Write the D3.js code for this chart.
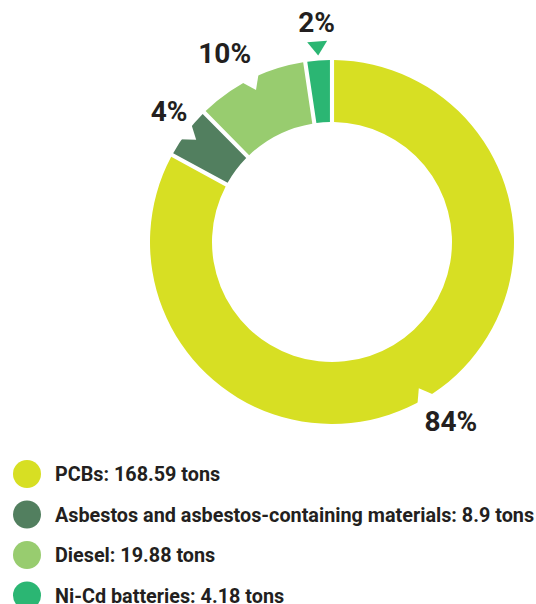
<!DOCTYPE html>
<html>
<head>
<meta charset="utf-8">
<script src="https://cdn.jsdelivr.net/npm/d3@7"></script>
<style>
  html, body { margin: 0; padding: 0; background: #fff; }
  svg { display: block; }
  text { font-family: Roboto, "Noto Sans", sans-serif; font-weight: 700; fill: #231f20; }
</style>
</head>
<body>
<svg id="chart" width="536" height="604"></svg>
<script>
// Hazardous waste by type (tons)
const categories = ["PCBs", "Asbestos and asbestos-containing materials", "Diesel", "Ni-Cd batteries"];
const tons = [168.59, 8.9, 19.88, 4.18];
const colors = ["#d7df23", "#527f5f", "#98cc6f", "#2bb673"];

const W = 536, H = 604;
const cx = 332, cy = 242;
const outerR = 182, innerR = 120;

const svg = d3.select("#chart");
const data = categories.map((c, i) => ({ name: c, value: tons[i], color: colors[i] }));
const total = d3.sum(tons);

const pie = d3.pie().sort(null).value(d => d.value).padAngle(0.019);
const arcs = pie(data);
const arc = d3.arc().innerRadius(innerR).outerRadius(outerR);

const g = svg.append("g").attr("transform", `translate(${cx},${cy})`);

g.selectAll("path.slice")
  .data(arcs)
  .join("path")
  .attr("class", "slice")
  .attr("d", arc)
  .attr("fill", d => d.data.color);

// Pointer triangle: apex at origin, base on the outward side
const triW = 20, triH = 14;
const tri = `M0,0L${-triW / 2},${-triH}L${triW / 2},${-triH}Z`;
const mid = d => (d.startAngle + d.endAngle) / 2;
const polar = (a, r) => [r * Math.sin(a), -r * Math.cos(a)];
const isNarrow = d => (d.endAngle - d.startAngle) * outerR < 30;

// Wide slices get a white notch cut into the outer edge; narrow ones a coloured pointer outside
g.selectAll("path.pointer")
  .data(arcs)
  .join("path")
  .attr("class", "pointer")
  .attr("d", tri)
  .attr("fill", d => isNarrow(d) ? d.data.color : "#fff")
  .attr("transform", d => {
    const [x, y] = polar(mid(d), isNarrow(d) ? outerR + 5 : outerR - 12);
    return `translate(${x},${y}) rotate(${mid(d) * 180 / Math.PI})`;
  });

// Percentage labels: the corner nearest the ring sits on an ellipse around the chart
const pctSize = 28, capH = 20, gapAbove = 3;
const labelRx = 181, labelRy = 197, narrowR = 208;
g.selectAll("text.pct")
  .data(arcs)
  .join("text")
  .attr("class", "pct")
  .style("font-size", pctSize + "px")
  .each(function (d) {
    const a = mid(d);
    const s = Math.sin(a), c = Math.cos(a);
    const x = (isNarrow(d) ? narrowR : labelRx) * s;
    const y = -(isNarrow(d) ? narrowR : labelRy) * c;
    const anchor = Math.abs(s) < 0.3 ? "middle" : (s > 0 ? "start" : "end");
    const baseY = c > 0 ? y - gapAbove : y + capH;
    d3.select(this)
      .attr("x", x)
      .attr("y", baseY)
      .attr("text-anchor", anchor)
      .text(Math.round(d.data.value / total * 100) + "%");
  });

// Legend
const legendX = 27, legendY = 474, rowH = 40.5;
const legend = svg.append("g");
const rows = legend.selectAll("g.row")
  .data(data)
  .join("g")
  .attr("class", "row")
  .attr("transform", (d, i) => `translate(0,${legendY + i * rowH})`);

rows.append("circle")
  .attr("cx", legendX)
  .attr("cy", 0)
  .attr("r", 14)
  .attr("fill", d => d.color);

rows.append("text")
  .attr("x", 55)
  .attr("y", 7)
  .style("font-size", "19.8px")
  .text(d => `${d.name}: ${d.value} tons`);
</script>
</body>
</html>
